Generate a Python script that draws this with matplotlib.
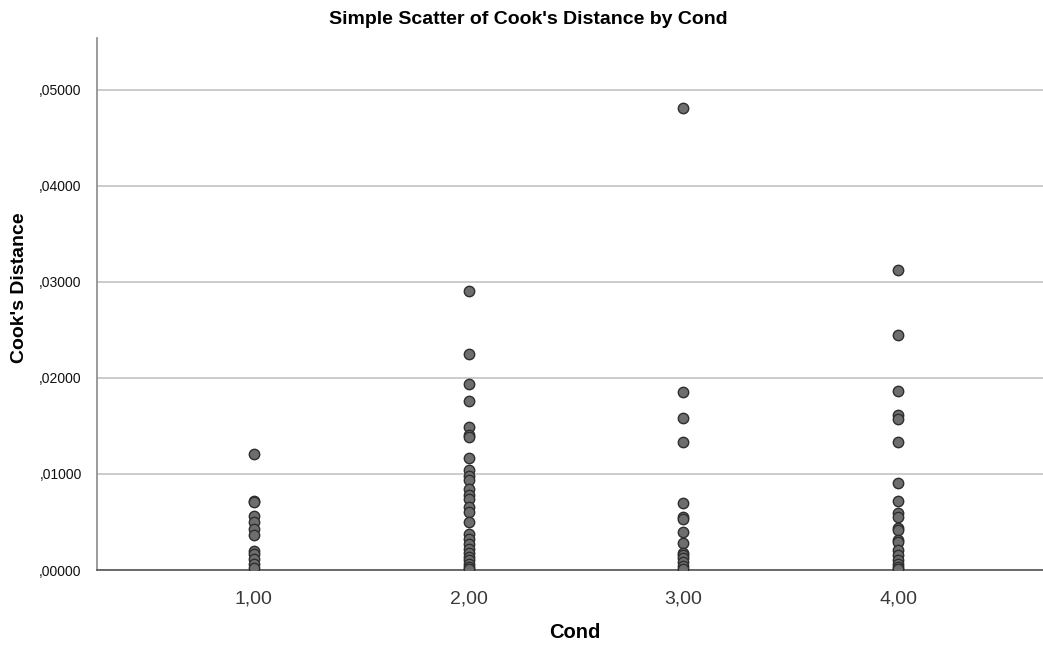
import matplotlib
matplotlib.use("Agg")
import matplotlib.pyplot as plt
from matplotlib.ticker import FuncFormatter

plt.rcParams['font.family'] = ['Liberation Sans', 'DejaVu Sans']

cond1 = [0.0121, 0.0072, 0.0071, 0.0056, 0.0050, 0.0043, 0.0036, 0.0020, 0.0017,
         0.0011, 0.0006, 0.0002]
cond2 = [0.0291, 0.0225, 0.0194, 0.0176, 0.0149, 0.0141, 0.0139, 0.0117, 0.0104,
         0.0098, 0.0094, 0.0084, 0.0078, 0.0074, 0.0066, 0.0060, 0.0050, 0.0037,
         0.0032, 0.0027, 0.0022, 0.0018, 0.0014, 0.0010, 0.0006, 0.0003, 0.0001]
cond3 = [0.0481, 0.0185, 0.0158, 0.0133, 0.0070, 0.0055, 0.0053, 0.0040, 0.0028,
         0.0018, 0.0016, 0.0012, 0.0008, 0.0004, 0.0001]
cond4 = [0.0312, 0.0245, 0.0186, 0.0161, 0.0157, 0.0133, 0.0091, 0.0072, 0.0059,
         0.0055, 0.0044, 0.0042, 0.0031, 0.0029, 0.0021, 0.0016, 0.0010, 0.0006,
         0.0003, 0.0001]
groups = [1.0, 2.0, 3.0, 4.0]
series = [cond1, cond2, cond3, cond4]
yticks = [0.0, 0.01, 0.02, 0.03, 0.04, 0.05]

fig = plt.figure(figsize=(10.43, 6.46), dpi=100)
ax = fig.add_axes([97/1043, 76/646, 1 - 97/1043, 532/646])

for g, vals in zip(groups, series):
    ax.scatter([g] * len(vals), vals, s=56, facecolor='#6e6e6e',
               edgecolor='#2e2e2e', linewidth=1.0, zorder=3)

ax.set_xlim(0.27, 4.675)
ax.set_ylim(0, 0.0554)
ax.set_yticks(yticks)
ax.set_xticks(groups)
ax.yaxis.set_major_formatter(FuncFormatter(lambda v, p: ('%.5f' % v).lstrip('0').replace('.', ',')))
ax.xaxis.set_major_formatter(FuncFormatter(lambda v, p: ('%.2f' % v).replace('.', ',')))
ax.grid(axis='y', color='#c4c4c4', linewidth=1.2, zorder=0)
ax.set_axisbelow(True)
ax.tick_params(axis='both', length=0)
ax.tick_params(axis='y', labelsize=10, pad=11, labelcolor='#111111')
ax.tick_params(axis='x', labelsize=14, pad=15, labelcolor='#3a3a3a')

for s in ['top', 'right']:
    ax.spines[s].set_visible(False)
ax.spines['left'].set_color('#8a8a8a')
ax.spines['left'].set_linewidth(1.2)
ax.spines['bottom'].set_color('#555555')
ax.spines['bottom'].set_linewidth(1.2)

ax.set_xlabel('Cond', fontsize=14.5, fontweight='bold')
ax.xaxis.set_label_coords((575 - 97) / (1043 - 97), -(633 - 570) / 532)
ax.set_ylabel("Cook's Distance", fontsize=14, fontweight='bold')
ax.yaxis.set_label_coords(-(97 - 20) / (1043 - 97), (570 - 288) / 532)
ax.xaxis.label.set_va('center')
ax.yaxis.label.set_va('center')
fig.text(528 / 1043, 1 - 19 / 646, "Simple Scatter of Cook's Distance by Cond",
         ha='center', va='center', fontsize=14, fontweight='bold')

fig.savefig('out.png', dpi=100)
